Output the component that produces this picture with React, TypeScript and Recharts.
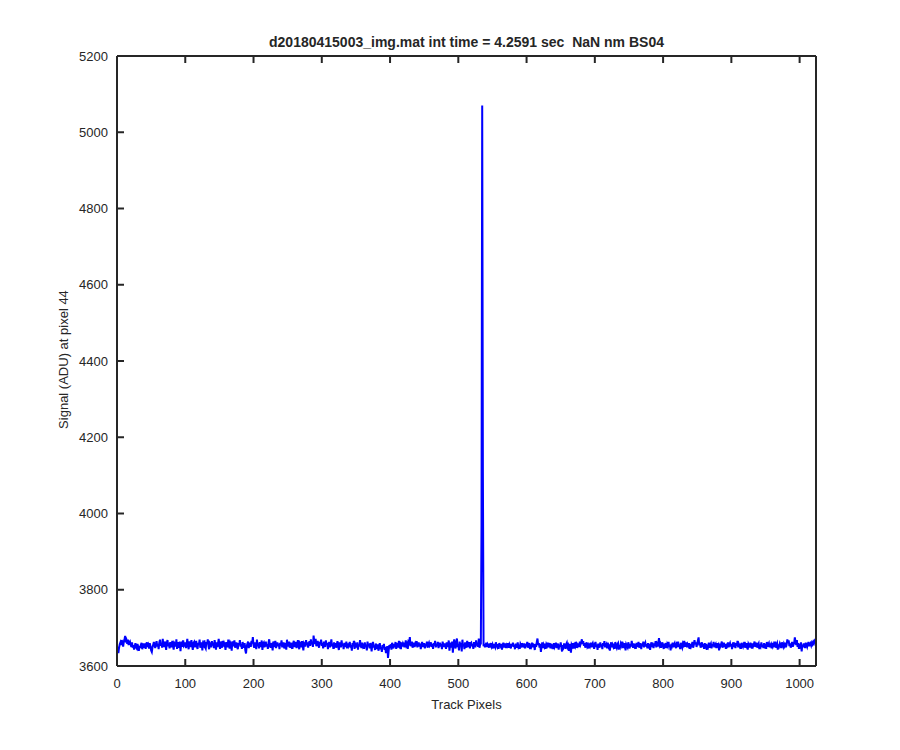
import { LineChart, Line, XAxis, YAxis } from 'recharts';

// noise before the spike (pixels 0-533)
const signalLeft = [
  3652,3641,3634,3648,3657,3662,3655,3668,3660,3651,3664,3671,3679,3662,3667,3658,3669,3655,3661,3664,
  3657,3650,3662,3648,3655,3643,3652,3660,3649,3646,3658,3651,3640,3653,3647,3656,3661,3644,3652,3659,
  3648,3653,3645,3657,3662,3650,3655,3646,3660,3652,3641,3637,3649,3656,3663,3654,3647,3659,3665,3651,
  3658,3644,3662,3669,3653,3660,3648,3671,3655,3650,3664,3657,3642,3661,3668,3652,3659,3646,3663,3656,
  3649,3666,3654,3643,3660,3657,3651,3670,3645,3662,3655,3648,3664,3639,3658,3661,3650,3667,3653,3656,
  3662,3647,3658,3671,3652,3644,3665,3657,3650,3668,3655,3642,3660,3663,3649,3657,3666,3651,3645,3661,
  3656,3669,3648,3653,3662,3641,3659,3655,3667,3650,3646,3663,3658,3670,3652,3644,3660,3657,3649,3665,
  3654,3661,3647,3668,3656,3643,3662,3650,3659,3671,3653,3645,3664,3657,3648,3666,3651,3660,3655,3642,
  3663,3658,3649,3669,3654,3646,3661,3657,3640,3665,3652,3659,3667,3648,3656,3662,3650,3644,3660,3655,
  3668,3651,3657,3645,3663,3654,3648,3660,3641,3633,3652,3658,3664,3647,3655,3661,3650,3666,3659,3676,
  3655,3648,3662,3657,3644,3669,3652,3659,3646,3663,3655,3650,3667,3642,3658,3661,3649,3656,3664,3651,
  3657,3645,3662,3670,3653,3648,3660,3655,3641,3664,3658,3650,3666,3647,3656,3662,3652,3659,3644,3661,
  3654,3667,3649,3657,3662,3646,3655,3660,3643,3669,3651,3658,3664,3648,3656,3652,3661,3645,3659,3666,
  3650,3657,3663,3647,3655,3668,3652,3644,3661,3658,3649,3665,3654,3641,3660,3657,3651,3668,3655,3662,
  3648,3659,3665,3653,3670,3657,3662,3650,3680,3664,3658,3671,3652,3660,3666,3655,3648,3663,3657,3669,
  3653,3660,3646,3664,3657,3650,3667,3655,3661,3644,3658,3663,3649,3656,3670,3652,3659,3645,3662,3654,
  3660,3648,3657,3665,3651,3642,3662,3656,3649,3667,3653,3658,3644,3661,3655,3650,3664,3646,3659,3652,
  3657,3663,3648,3655,3640,3660,3652,3666,3645,3658,3654,3649,3662,3643,3657,3651,3668,3655,3647,3661,
  3653,3659,3645,3662,3650,3656,3641,3664,3652,3658,3646,3660,3655,3638,3657,3663,3649,3654,3642,3659,
  3651,3645,3657,3640,3653,3660,3644,3649,3637,3655,3647,3658,3642,3650,3634,3646,3652,3621,3640,3655,
  3648,3657,3643,3661,3652,3646,3658,3650,3663,3645,3655,3660,3648,3666,3653,3657,3644,3662,3651,3659,
  3655,3661,3649,3667,3654,3658,3645,3663,3660,3676,3652,3657,3664,3648,3656,3661,3650,3658,3653,3665,
  3649,3656,3662,3651,3659,3644,3657,3663,3650,3655,3660,3646,3658,3652,3664,3648,3657,3661,3653,3656,
  3662,3650,3657,3645,3660,3654,3666,3649,3658,3652,3663,3647,3655,3661,3651,3658,3644,3664,3656,3650,
  3659,3653,3645,3662,3657,3650,3667,3640,3655,3661,3648,3664,3635,3658,3670,3652,3646,3663,3672,3650,
  3657,3641,3664,3653,3660,3638,3669,3652,3658,3644,3662,3655,3648,3666,3657,3650,3663,3646,3659,3661,
  3652,3658,3645,3663,3656,3649,3667,3654,3660,3650,3672,3648,3656,3659,
];

// the spike around pixel 535
const signalSpike = [3970, 5070, 4110];

// noise after the spike (pixels 537-1023)
const signalRight = [
  3652,3658,3649,3655,3661,3650,3657,3653,3648,3659,3654,3660,3651,3656,3646,3658,3653,3649,3662,3655,
  3650,3657,3645,3660,3654,3651,3658,3643,3656,3661,3649,3654,3659,3647,3655,3652,3660,3648,3657,3653,
  3646,3658,3652,3661,3650,3655,3644,3659,3653,3648,3662,3651,3656,3645,3658,3654,3660,3649,3655,3652,
  3659,3646,3657,3651,3663,3648,3655,3660,3644,3657,3652,3661,3649,3656,3654,3642,3658,3650,3663,3672,
  3655,3660,3648,3658,3637,3652,3662,3647,3656,3651,3659,3645,3657,3653,3661,3649,3655,3660,3646,3658,
  3652,3657,3644,3660,3650,3655,3661,3647,3654,3659,3643,3656,3651,3662,3648,3638,3655,3650,3659,3653,
  3645,3657,3661,3650,3654,3640,3658,3648,3635,3656,3652,3660,3646,3655,3651,3663,3648,3657,3653,3659,
  3650,3664,3656,3662,3670,3658,3665,3653,3660,3648,3657,3662,3651,3655,3646,3659,3653,3661,3649,3656,
  3660,3652,3645,3658,3663,3650,3656,3642,3659,3654,3648,3662,3651,3657,3644,3660,3653,3665,3649,3655,
  3658,3646,3661,3652,3657,3640,3655,3662,3649,3656,3651,3659,3645,3663,3653,3648,3657,3660,3643,3655,
  3650,3659,3654,3664,3647,3656,3652,3660,3641,3657,3653,3649,3662,3655,3646,3658,3651,3666,3654,3648,
  3659,3652,3657,3645,3661,3650,3656,3663,3648,3655,3660,3644,3658,3652,3664,3649,3656,3661,3651,3657,
  3646,3660,3653,3658,3642,3656,3662,3650,3655,3647,3659,3653,3665,3649,3657,3651,3661,3673,3654,3658,
  3648,3656,3662,3651,3645,3659,3654,3660,3647,3657,3652,3663,3650,3655,3641,3658,3653,3661,3649,3656,
  3660,3652,3647,3658,3655,3664,3650,3657,3644,3661,3653,3648,3659,3655,3666,3651,3656,3662,3649,3657,
  3653,3660,3645,3658,3651,3656,3663,3648,3655,3668,3657,3662,3650,3659,3667,3675,3654,3661,3648,3656,
  3662,3650,3657,3645,3660,3653,3658,3642,3656,3651,3661,3648,3655,3659,3646,3657,3652,3663,3649,3655,
  3658,3647,3660,3653,3656,3641,3659,3652,3657,3664,3648,3655,3661,3650,3657,3645,3659,3654,3662,3649,
  3656,3660,3651,3658,3644,3657,3662,3650,3655,3647,3660,3653,3666,3649,3657,3652,3659,3645,3661,3654,
  3650,3657,3663,3648,3656,3652,3660,3643,3658,3654,3649,3661,3655,3646,3659,3652,3657,3664,3650,3656,
  3661,3648,3655,3659,3644,3657,3652,3662,3650,3656,3647,3660,3653,3658,3645,3663,3651,3656,3660,3649,
  3655,3658,3646,3661,3652,3657,3650,3664,3648,3656,3660,3643,3657,3652,3659,3654,3647,3662,3655,3650,
  3658,3653,3661,3649,3656,3670,3660,3667,3652,3659,3648,3657,3663,3651,3656,3660,3675,3664,3655,3668,
  3650,3660,3645,3657,3652,3662,3638,3656,3649,3659,3653,3647,3661,3655,3650,3658,3663,3652,3657,3660,
  3654,3661,3657,3663,3659,3665,3661,
];

const xTicks = [0, 100, 200, 300, 400, 500, 600, 700, 800, 900, 1000];
const yTicks = [3600, 3800, 4000, 4200, 4400, 4600, 4800, 5000, 5200];

const title = 'd20180415003_img.mat int time = 4.2591 sec  NaN nm BS04';
const xLabel = 'Track Pixels';
const yLabel = 'Signal (ADU) at pixel 44';

const data = [...signalLeft, ...signalSpike, ...signalRight].map((v, i) => ({ x: i, y: v }));

const ink = '#262626';
const font = 'Arial, "Liberation Sans", Helvetica, sans-serif';
const tickFont = { fill: ink, fontSize: 13, fontFamily: font };
const noLabel = () => <g />;

export default function App() {
  return (
    <div style={{ position: 'absolute', left: 0, top: 0, width: 900, height: 750, background: '#fff', fontFamily: font }}>
      <LineChart width={900} height={750} data={data} margin={{ top: 0, right: 0, bottom: 0, left: 0 }}>
        <XAxis
          xAxisId="b"
          dataKey="x"
          type="number"
          domain={[0, 1024]}
          ticks={xTicks}
          height={84}
          tickSize={-7}
          tickMargin={20}
          tick={tickFont}
          axisLine={{ stroke: ink, strokeWidth: 2 }}
          tickLine={{ stroke: ink, strokeWidth: 2 }}
        />
        <XAxis
          xAxisId="t"
          orientation="top"
          dataKey="x"
          type="number"
          domain={[0, 1024]}
          ticks={xTicks}
          height={56}
          tickSize={-7}
          tick={noLabel}
          axisLine={{ stroke: ink, strokeWidth: 2 }}
          tickLine={{ stroke: ink, strokeWidth: 2 }}
        />
        <YAxis
          yAxisId="l"
          type="number"
          domain={[3600, 5200]}
          ticks={yTicks}
          width={117}
          tickSize={-7}
          tickMargin={16}
          tick={tickFont}
          axisLine={{ stroke: ink, strokeWidth: 2 }}
          tickLine={{ stroke: ink, strokeWidth: 2 }}
        />
        <YAxis
          yAxisId="r"
          orientation="right"
          type="number"
          domain={[3600, 5200]}
          ticks={yTicks}
          width={84}
          tickSize={-7}
          tick={noLabel}
          axisLine={{ stroke: ink, strokeWidth: 2 }}
          tickLine={{ stroke: ink, strokeWidth: 2 }}
        />
        <Line
          xAxisId="b"
          yAxisId="l"
          type="linear"
          dataKey="y"
          stroke="#0000ff"
          strokeWidth={2}
          dot={false}
          isAnimationActive={false}
        />
      </LineChart>
      <div style={{ position: 'absolute', left: 117, width: 699, top: 34, textAlign: 'center', fontSize: 14, fontWeight: 'bold', color: ink, whiteSpace: 'pre' }}>
        {title}
      </div>
      <div style={{ position: 'absolute', left: 117, width: 699, top: 697, textAlign: 'center', fontSize: 13, color: ink }}>
        {xLabel}
      </div>
      <div
        style={{
          position: 'absolute',
          left: 63 - 150,
          top: 361 - 9,
          width: 300,
          textAlign: 'center',
          fontSize: 13,
          color: ink,
          transform: 'rotate(-90deg)',
        }}
      >
        {yLabel}
      </div>
    </div>
  );
}
